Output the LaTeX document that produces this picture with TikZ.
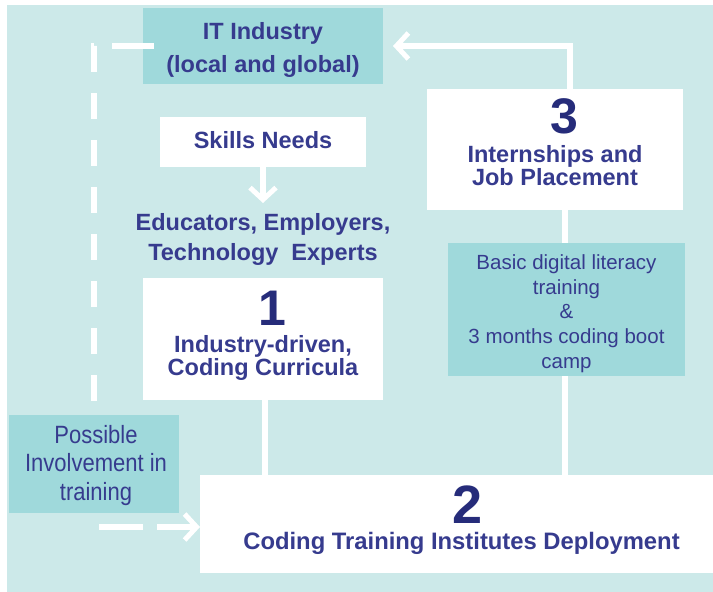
\documentclass[tikz,border=0pt]{standalone}
\usepackage{fontspec}
\setmainfont{Liberation Sans}
\newfontfamily\narrowfont[FakeStretch=0.88]{Liberation Sans}
\usetikzlibrary{arrows.meta}
\definecolor{bgteal}{HTML}{CCE9E9}
\definecolor{darkteal}{HTML}{9FD9DB}
\definecolor{navy}{HTML}{363B8E}
\definecolor{numnavy}{HTML}{262C7A}
% invisible strut fixing the top of the first line at 1em above its baseline
\newcommand\linetop{\rule{0pt}{1em}}

\begin{document}
\begin{tikzpicture}[x=1pt,y=-1pt,
  whitebox/.style={fill=white, draw=none, inner sep=0pt, outer sep=0pt},
  tealbox/.style={fill=darkteal, draw=none, inner sep=0pt, outer sep=0pt},
  txt/.style={anchor=north, inner sep=0pt, outer sep=0pt, align=center, text=navy},
  boldtxt/.style={txt, font={\fontsize{23.5}{#1}\selectfont\bfseries}},
  regtxt/.style={txt, font={\fontsize{20.5}{#1}\selectfont}},
  narrowtxt/.style={txt, font={\narrowfont\fontsize{25}{#1}\selectfont}},
  bignum/.style={txt, text=numnavy, font={\fontsize{#1}{#1}\selectfont\bfseries}},
  wline/.style={draw=white, line width=6pt},
  arr/.style={-{Straight Barb[length=12pt,width=26pt,line width=5pt]}},
  dashline/.style={wline, dash pattern=on 42pt off 18pt
     on 26pt off 21pt on 26pt off 21pt on 26pt off 21pt
     on 26pt off 21pt on 26pt off 21pt on 26pt off 21pt
     on 26pt off 21pt on 26pt off 21pt on 26pt off 21pt
     on 26pt off 37pt on 44pt off 14pt on 100pt off 10pt}
]
\useasboundingbox (0,0) rectangle (713,592);
\fill[white] (0,0) rectangle (713,592);
\fill[bgteal] (7,5) rectangle (713,592);

% boxes
\node[tealbox, minimum width=240pt, minimum height=76pt] (it) at (263,46) {};
\node[whitebox, minimum width=206pt, minimum height=50pt] (skills) at (263,142) {};
\node[whitebox, minimum width=240pt, minimum height=122pt] (box1) at (263,339) {};
\node[whitebox, minimum width=256pt, minimum height=121pt] (box3) at (555,149.5) {};
\node[whitebox, minimum width=513pt, minimum height=98pt] (box2) at (456.5,524) {};
\node[boldtxt=30] (edu) at (263,207) {\linetop Educators, Employers,\\Technology~\ Experts};

% connectors
\coordinate (dl) at (94,46);
\draw[dashline, arr] ([xshift=11pt]it.west) -- (dl) |- ([yshift=-3pt]box2.west);
\draw[wline] ([xshift=2pt]box1.south) -- ([xshift=2pt]box1.south |- box2.north);
\draw[wline] ([xshift=10pt]box3.south) -- ([xshift=10pt]box3.south |- box2.north);
\draw[wline, arr, shorten >=10pt] ([xshift=15pt]box3.north) |- (it.east);
\draw[wline, arr, shorten >=4pt] (skills.south) -- (edu.north);

% boxes lying over the connectors
\node[tealbox, minimum width=170pt, minimum height=98pt] (poss) at (94,464) {};
\node[tealbox, minimum width=237pt, minimum height=133pt] (lit) at (566.5,309.5) {};

% texts
\node[boldtxt=33] (itT) at (263,16) {\linetop IT Industry\\(local and global)};
\node[boldtxt=28] (skT) at (263,125) {\linetop Skills Needs};
\node[bignum=50] (oneN) at (272,275) {\linetop 1};
\node[boldtxt=23] (c1T) at (263,329) {\linetop Industry-driven,\\Coding Curricula};
\node[bignum=50] (threeN) at (564,83) {\linetop 3};
\node[boldtxt=23] (c3T) at (555,139) {\linetop Internships and\\Job Placement};
\node[regtxt=24.8] (litT) at (566.5,248.8) {\linetop Basic digital literacy\\training\\\&\\3 months coding boot\\camp};
\node[narrowtxt=28.5] (possT) at (96,418) {\linetop Possible\\Involvement in\\training};
\node[bignum=54] (twoN) at (468,469) {\linetop 2};
\node[txt, font={\fontsize{23.8}{28}\selectfont\bfseries}] (c2T) at (461.5,525.2) {\linetop Coding Training Institutes Deployment};
\end{tikzpicture}
\end{document}
